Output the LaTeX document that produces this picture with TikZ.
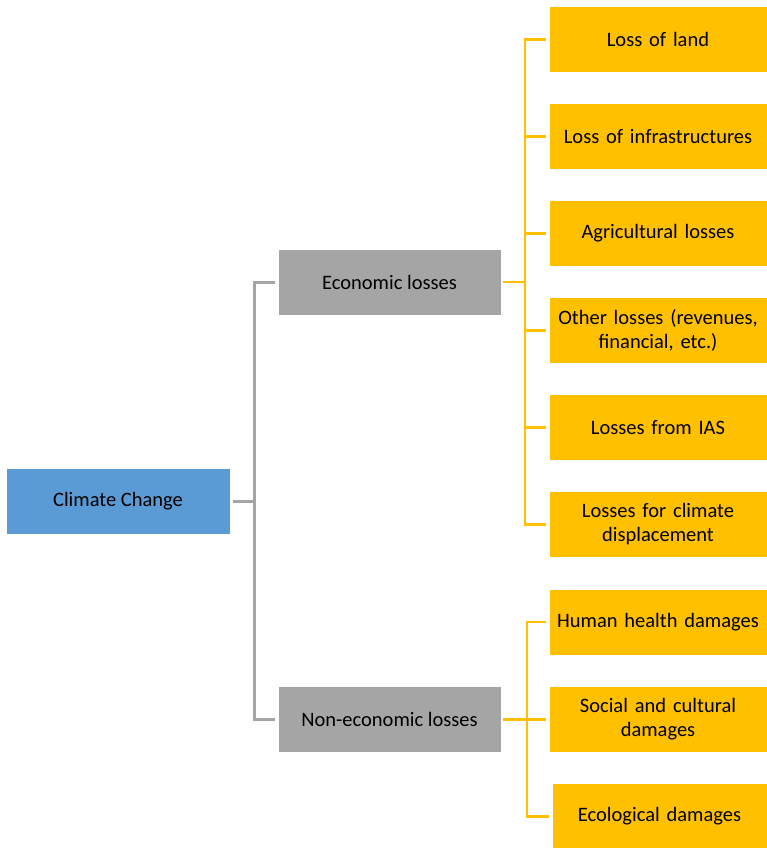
\documentclass[tikz,border=0pt]{standalone}
\usepackage{fontspec}
\setmainfont{Carlito}
\definecolor{cblue}{HTML}{5B9BD5}
\definecolor{cgray}{HTML}{A5A5A5}
\definecolor{cyel}{HTML}{FFC000}
\begin{document}
\begin{tikzpicture}[x=1pt,y=-1pt,
  box/.style={draw=white,line width=0.6pt,minimum height=66pt,inner sep=2pt,align=center,font=\fontsize{20.5}{24}\selectfont,text=black},
  bluebox/.style={box,fill=cblue,minimum width=224pt},
  graybox/.style={box,fill=cgray,minimum width=223pt},
  yelbox/.style={box,fill=cyel,minimum width=218pt,text width=214pt},
  gline/.style={draw=cgray,line width=3pt},
  yline/.style={draw=cyel,line width=2.5pt}]
\useasboundingbox (0,0) rectangle (767,848);
\node[bluebox] (cc) at (118,501) {Climate Change};
\node[graybox] (eco) at (389.5,282) {Economic losses};
\node[graybox] (neco) at (389.5,719.5) {Non-economic losses};
\node[yelbox] (y1) at (658,39.5) {Loss of land};
\node[yelbox] (y2) at (658,136.5) {Loss of infrastructures};
\node[yelbox] (y3) at (658,233.5) {Agricultural losses};
\node[yelbox] (y4) at (658,330.5) {Other losses (revenues,\\financial, etc.)};
\node[yelbox] (y5) at (658,427.5) {Losses from IAS};
\node[yelbox] (y6) at (658,524.5) {Losses for climate\\displacement};
\node[yelbox] (y7) at (658,622) {Human health damages};
\node[yelbox] (y8) at (658,719.5) {Social and cultural\\damages};
\node[yelbox,minimum width=215pt,text width=211pt] (y9) at (659.5,816.5) {Ecological damages};
% gray tree
\coordinate (gt) at (254,501);
\draw[gline] ([xshift=3pt]cc.east) -- (gt);
\draw[gline] ([xshift=-3pt]eco.west) -| (gt) |- ([xshift=-3pt]neco.west);
% yellow economic tree
\coordinate (ye) at (525,282);
\draw[yline] ([xshift=2pt]eco.east) -- (ye);
\draw[yline] ([xshift=-3pt]y1.west) -| (ye) |- ([xshift=-3pt]y6.west);
\foreach \n in {y2,y3,y4,y5} \draw[yline] (ye |- \n.west) -- ([xshift=-3pt]\n.west);
% yellow non-economic tree
\coordinate (yn) at (527,719.5);
\draw[yline] ([xshift=2pt]neco.east) -- ([xshift=-3pt]y8.west);
\draw[yline] ([xshift=-3pt]y7.west) -| (yn) |- ([xshift=-3pt]y9.west);
\end{tikzpicture}
\end{document}
